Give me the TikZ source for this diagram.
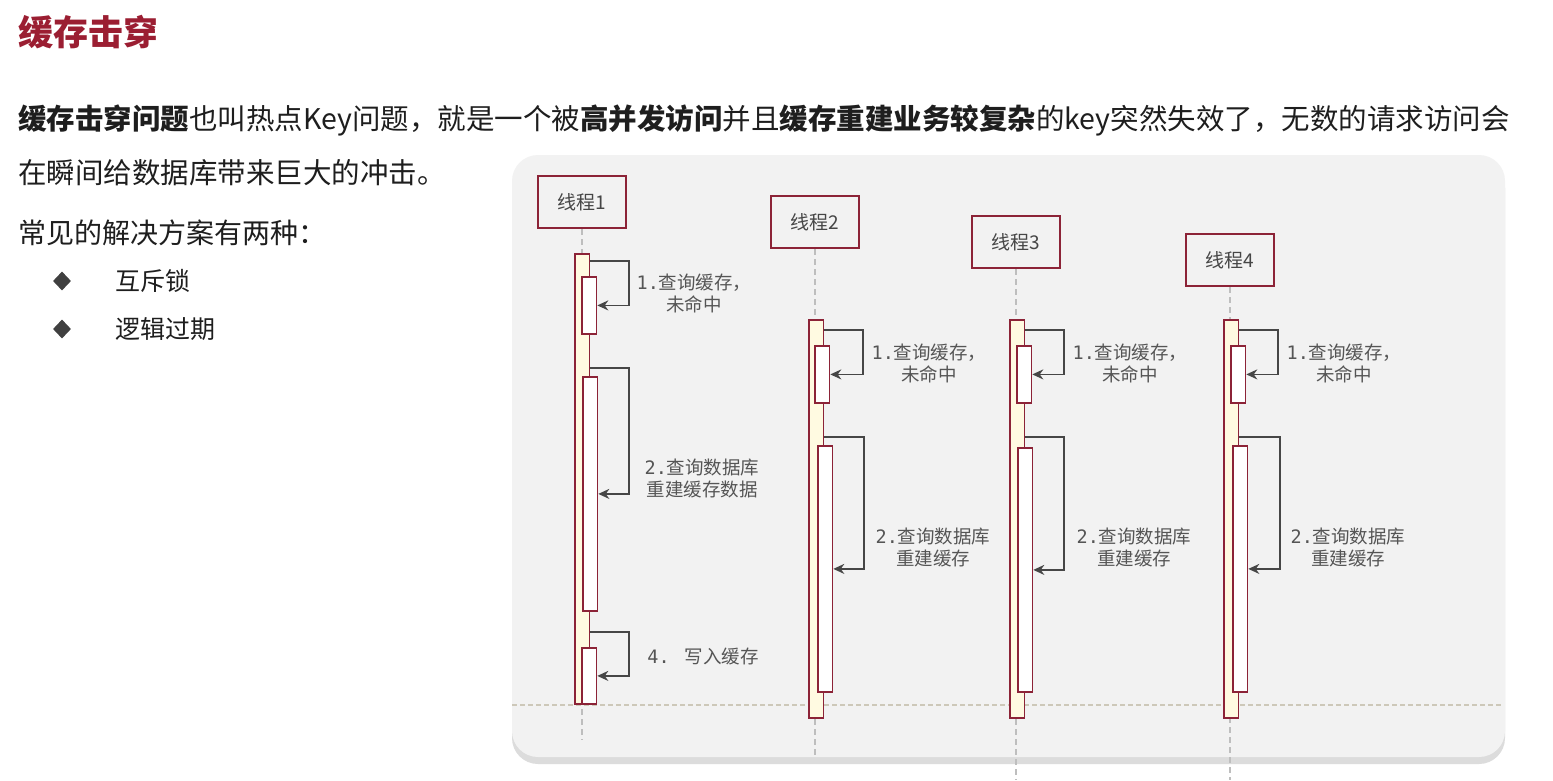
\documentclass[tikz,border=0pt]{standalone}
\usepackage{fontspec}
\setmainfont{Noto Sans CJK SC}
\newfontfamily\monofont{DejaVu Sans Mono}
\usetikzlibrary{shadows,arrows.meta,shapes.geometric}
\definecolor{titlered}{RGB}{155,30,50}
\definecolor{boxred}{RGB}{140,35,55}
\definecolor{panelgray}{RGB}{242,242,242}
\definecolor{actyellow}{RGB}{255,250,225}
\definecolor{arrowgray}{RGB}{70,70,70}
\definecolor{labelgray}{RGB}{85,85,85}
\definecolor{textdark}{RGB}{30,30,30}
\definecolor{lifegray}{RGB}{190,190,190}
\definecolor{sepline}{RGB}{205,200,185}
\begin{document}
\begin{tikzpicture}[x=1pt,y=-1pt,
 thread/.style={draw=boxred, line width=2pt, fill=panelgray, minimum width=88pt, minimum height=52pt, inner sep=0pt, font=\fontsize{19}{23}\selectfont, text=arrowgray},
 actouter/.style={draw=boxred, line width=1.8pt, fill=actyellow, minimum width=14.5pt, inner sep=0pt, anchor=north west},
 actinner/.style={draw=boxred, line width=1.8pt, fill=white, minimum width=14.5pt, inner sep=0pt, anchor=north west},
 lifeline/.style={draw=lifegray, line width=1.2pt, dash pattern=on 6pt off 4pt},
 sep/.style={draw=sepline, line width=1.2pt, dash pattern=on 5pt off 3pt},
 msg/.style={draw=arrowgray, line width=1.8pt, -{Stealth[length=11pt,width=10pt]}},
 lbl/.style={font=\fontsize{18.5}{22}\selectfont, text=labelgray, align=center, inner sep=0pt},
 body/.style={anchor=west, inner sep=0pt, text=textdark},
 bullet/.style={diamond, fill=black!75, minimum width=18pt, minimum height=19pt, inner sep=0pt},
]
\useasboundingbox (0,0) rectangle (1553,780);
\fill[white] (0,0) rectangle (1553,780);

% heading and text
\node[body, text=titlered, font=\fontsize{35}{40}\selectfont\bfseries] (title) at (18,32) {缓存击穿};
\node[body, font=\fontsize{28.5}{34}\selectfont] (p1) at (18,120) {\textbf{缓存击穿问题}也叫热点Key问题，就是一个被\textbf{高并发访问}并且\textbf{缓存重建业务较复杂}的key突然失效了，无数的请求访问会};
\node[body, font=\fontsize{28.5}{34}\selectfont] (p2) at (18,173) {在瞬间给数据库带来巨大的冲击。};
\node[body, font=\fontsize{28}{34}\selectfont] (p3) at (18,233) {常见的解决方案有两种：};
\node[bullet] (b1) at (62,281) {};
\node[bullet] (b2) at (62,329) {};
\node[body, font=\fontsize{25}{30}\selectfont] (it1) at (115,281) {互斥锁};
\node[body, font=\fontsize{25}{30}\selectfont] (it2) at (115,329) {逻辑过期};

% panel
\path[fill=panelgray, rounded corners=26pt, drop shadow={shadow xshift=0pt, shadow yshift=-7pt, opacity=0.3, fill=black!45}] (512,155) rectangle (1505,757);

% threads
\node[thread] (t1) at (582,202) {线程1};
\node[thread] (t2) at (815,222) {线程2};
\node[thread] (t3) at (1016,242) {线程3};
\node[thread] (t4) at (1230,260) {线程4};

\coordinate (e1) at (582,740);
\coordinate (e2) at (815,758);
\coordinate (e3) at (1016,780);
\coordinate (e4) at (1230,780);
\draw[lifeline] (t1.south) -- (e1);
\draw[lifeline] (t2.south) -- (e2);
\draw[lifeline] (t3.south) -- (e3);
\draw[lifeline] (t4.south) -- (e4);

\coordinate (sepL) at (512,705);
\coordinate (sepR) at (1502,705);
\draw[sep] (sepL) -- (sepR);

% thread 1 activations
\node[actouter, minimum height=450pt] (o1) at (574,253) {};
\node[actinner, minimum height=57pt] (i11) at (581,276) {};
\node[actinner, minimum height=234pt] (i12) at (582,376) {};
\node[actinner, minimum height=56pt] (i13) at (581,647) {};
\draw[msg] (o1.east |- 0,261) -- ++(39,0) |- (i11.east);
\draw[msg] (o1.east |- 0,368) -- ++(39,0) |- (i12.east);
\draw[msg] (o1.east |- 0,632) -- ++(39,0) |- (i13.east);
\node[lbl] (l11) at (694,293.5) {{\monofont 1.}查询缓存，\\未命中};
\node[lbl] (l12) at (702,478.5) {{\monofont 2.}查询数据库\\重建缓存数据};
\node[lbl] (l13) at (703,656) {{\monofont 4. }写入缓存};

% thread 2
\node[actouter, minimum height=398pt] (o2) at (808,319) {};
\node[actinner, minimum height=57pt] (i21) at (814,345) {};
\node[actinner, minimum height=246pt] (i22) at (817,445) {};
\draw[msg] (o2.east |- 0,330) -- ++(39,0) |- (i21.east);
\draw[msg] (o2.east |- 0,437) -- ++(40,0) |- (i22.east);
\node[lbl] (l21) at (929,363) {{\monofont 1.}查询缓存，\\未命中};
\node[lbl] (l22) at (933,547) {{\monofont 2.}查询数据库\\重建缓存};

% thread 3
\node[actouter, minimum height=398pt] (o3) at (1009,319) {};
\node[actinner, minimum height=57pt] (i31) at (1016,345) {};
\node[actinner, minimum height=244pt] (i32) at (1017,447) {};
\draw[msg] (o3.east |- 0,330) -- ++(39,0) |- (i31.east);
\draw[msg] (o3.east |- 0,437) -- ++(39,0) |- (i32.east);
\node[lbl] (l31) at (1130,363) {{\monofont 1.}查询缓存，\\未命中};
\node[lbl] (l32) at (1134,547) {{\monofont 2.}查询数据库\\重建缓存};

% thread 4
\node[actouter, minimum height=398pt] (o4) at (1223,319) {};
\node[actinner, minimum height=57pt] (i41) at (1230,345) {};
\node[actinner, minimum height=246pt] (i42) at (1232,445) {};
\draw[msg] (o4.east |- 0,330) -- ++(39,0) |- (i41.east);
\draw[msg] (o4.east |- 0,437) -- ++(41,0) |- (i42.east);
\node[lbl] (l41) at (1344,363) {{\monofont 1.}查询缓存，\\未命中};
\node[lbl] (l42) at (1348,547) {{\monofont 2.}查询数据库\\重建缓存};
\end{tikzpicture}
\end{document}
